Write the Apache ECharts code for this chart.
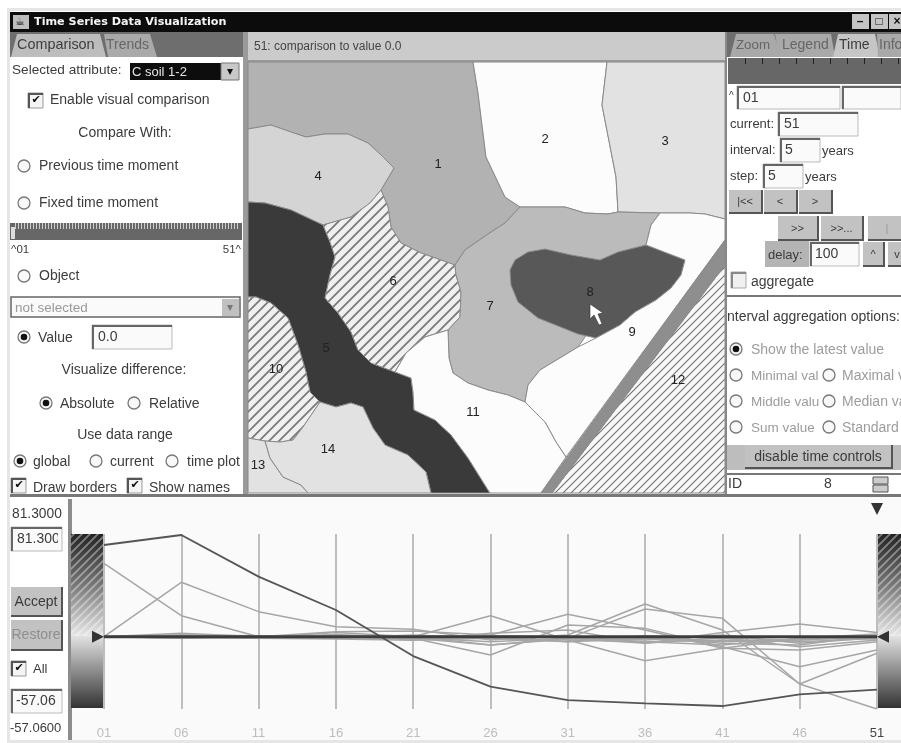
<!DOCTYPE html>
<html><head><meta charset="utf-8">
<style>html,body{margin:0;padding:0;background:#fff}#c{width:901px;height:743px;filter:blur(.45px)}</style>
<script src="https://cdn.jsdelivr.net/npm/echarts@6/dist/echarts.min.js"></script>
</head><body><div id="c"></div>
<script>
// ---------- data ----------
const timeLabels = ['01','06','11','16','21','26','31','36','41','46','51'];
const yMin = -57.06, yMax = 81.3, compareValue = 0.0;
const region1  = [58.1,16.7,0.1,-0.7,-1.2,-6.5,-1.2,22,14.6,-37.3,-57.06];
const region2  = [0.1,43.1,19.9,8,5.9,-2.5,1.4,25.9,5.4,-37.3,-13];
const region3  = [0.1,1.4,-0.7,3.5,0.1,16.7,-2.5,-18.9,-9.1,-1.2,-1.7];
const region4  = [0.1,0.1,0.1,0.1,-1.2,-14.4,9.3,6.7,-7.8,-23.6,-10.4];
const region5  = [72.6,80.5,47.6,21.2,-15.2,-39.4,-50,-52.6,-54.7,-45.5,-41.8];
const region6  = [0.1,2.8,0.1,4,4.6,1.4,17.8,5.4,-9.1,-10.4,-3.8];
const region7  = [0.1,0.1,-1.2,1.4,-2.5,2.8,5.4,-5.1,3.5,10.1,3.5];
const region8  = [0.1,-1.2,0.1,-0.7,0.9,0.1,-3.8,-1.2,-5.1,-6.5,1.4];
const region9  = [0.1,0.1,-1.2,-1.7,-2.8,-1.2,-2.5,-3.8,-2.5,-3.8,-1.2];
const region10 = [0.1,0.9,-0.7,1.9,-0.7,-3.8,-1.2,-5.1,-0.7,-7.8,-2.5];
const region11 = [0.1,-0.7,0.1,0.9,0.1,-6.5,-1.7,-1.2,-3.8,-2.5,0.1];
const region12 = [0.1,1.4,0.9,0.1,-1.2,-0.7,0.1,-2.5,1.4,-5.1,-0.7];
const region13 = [0.1,0.1,0.9,-0.7,1.4,-1.2,-3.8,0.9,-1.2,-2.5,0.9];
const region14 = [0.1,-0.7,-0.7,0.9,-1.7,0.9,0.1,-3.8,-6.5,-1.2,2.2];
const regionValues = {1:region1,2:region2,3:region3,4:region4,5:region5,6:region6,7:region7,8:region8,9:region9,10:region10,11:region11,12:region12,13:region13,14:region14};
// region outlines (map geometry)
const outline1 = [[248,62],[473,62],[478,93],[486,157],[505,197],[520,207],[505,223],[488,234],[465,250],[455,265],[421,253],[401,243],[391,227],[388,207],[381,190],[394,168],[381,155],[368,143],[348,134],[325,134],[306,137],[291,132],[271,125],[248,129]];
const outline2 = [[473,62],[607,62],[602,105],[616,177],[618,212],[608,214],[585,213],[565,207],[520,207],[505,197],[486,157],[478,93]];
const outline3 = [[607,62],[725,62],[725,219],[705,214],[690,213],[660,213],[618,212],[616,177],[602,105]];
const outline4 = [[248,129],[271,125],[291,132],[306,137],[325,134],[348,134],[368,143],[381,155],[394,168],[381,190],[370,203],[351,217],[323,225],[291,210],[265,203],[248,202]];
const outline5 = [[248,202],[265,203],[291,210],[323,225],[330,242],[335,257],[330,275],[325,298],[338,313],[351,332],[358,350],[371,363],[395,372],[411,378],[413,392],[414,410],[435,420],[451,435],[468,458],[488,490],[490,493],[431,493],[426,472],[408,455],[385,445],[373,428],[363,407],[351,403],[336,407],[320,402],[310,392],[306,372],[298,345],[288,318],[271,303],[256,297],[248,297]];
const outline6 = [[381,190],[388,207],[391,227],[401,243],[421,253],[455,265],[456,275],[461,292],[460,317],[448,330],[425,337],[406,353],[395,372],[371,363],[358,350],[351,332],[338,313],[325,298],[330,275],[335,257],[330,242],[323,225],[351,217],[370,203]];
const outline7 = [[520,207],[565,207],[585,213],[608,214],[618,212],[660,213],[651,225],[646,245],[610,300],[585,337],[578,347],[540,370],[528,385],[525,402],[508,395],[488,390],[468,383],[453,373],[449,358],[448,330],[460,317],[461,292],[456,275],[455,265],[465,250],[488,234],[505,223]];
const outline8 = [[646,245],[685,260],[681,275],[671,288],[656,300],[635,312],[620,325],[596,338],[578,334],[538,318],[518,302],[511,285],[510,270],[515,260],[528,252],[545,249],[571,255],[600,260],[618,252]];
const outline9 = [[660,213],[690,213],[705,214],[725,219],[725,240],[566,457],[556,442],[545,422],[525,402],[528,385],[540,370],[578,347],[596,338],[620,325],[635,312],[656,300],[671,288],[681,275],[685,260],[646,245],[651,225]];
const outline10 = [[248,297],[256,297],[271,303],[288,318],[298,345],[306,372],[310,392],[320,402],[303,427],[293,440],[280,442],[265,441],[248,438]];
const outline11 = [[395,372],[406,353],[425,337],[448,330],[449,358],[453,373],[468,383],[488,390],[508,395],[525,402],[545,422],[556,442],[566,457],[541,493],[490,493],[488,490],[468,458],[451,435],[435,420],[414,410],[413,392],[411,378]];
const outline12 = [[552,493],[725,265],[725,493]];
const outline13 = [[248,438],[265,441],[270,458],[283,477],[301,485],[308,493],[248,493]];
const outline14 = [[265,441],[280,442],[293,440],[303,427],[320,402],[336,407],[351,403],[363,407],[373,428],[385,445],[408,455],[426,472],[431,493],[308,493],[301,485],[283,477],[270,458]];
const outlineStrip = [[541,493],[725,240],[725,265],[552,493]];
const regionOutlines = {1:outline1,2:outline2,3:outline3,4:outline4,7:outline7,6:outline6,10:outline10,5:outline5,8:outline8,9:outline9,11:outline11,12:outline12,13:outline13,14:outline14,'':outlineStrip};
const labelPoints = {1:[438,164],2:[545,139],3:[665,141],4:[318,176],5:[326,348],6:[393,281],7:[490,306],8:[590,292],9:[632,332],10:[276,369],11:[473,412],12:[678,380],13:[258,465],14:[328,449]};

// ---------- helpers ----------
function hatch(n, bg, fg, w){
  const c=document.createElement('canvas'); c.width=c.height=n;
  const g=c.getContext('2d');
  if(bg){g.fillStyle=bg;g.fillRect(0,0,n,n);}
  g.strokeStyle=fg;g.lineWidth=w;g.beginPath();
  g.moveTo(-2,2);g.lineTo(2,-2);g.moveTo(0,n);g.lineTo(n,0);g.moveTo(n-2,n+2);g.lineTo(n+2,n-2);g.stroke();
  return {image:c,repeat:'repeat'};
}
const hatch6 = hatch(10,'#f0f0f0','#7a7a7a',1.8);
const hatch12 = hatch(8,'#f8f8f8','#707070',1.1);
const regionFill = {1:'#b2b2b2',2:'#fcfcfc',3:'#e2e2e2',4:'#d4d4d4',5:'#3a3a3a',6:hatch6,7:'#bbbbbb',8:'#585858',9:'#fcfcfc',10:hatch6,11:'#fcfcfc',12:hatch12,13:'#e2e2e2',14:'#e2e2e2','':'#8e8e8e'};

const ui=[]; const F='"Liberation Sans",Arial,sans-serif';
function R(x,y,w,h,fill,o={}){ui.push({type:'rect',silent:true,z:o.z??0,shape:{x,y,width:w,height:h},style:{fill,stroke:o.stroke,lineWidth:o.lw??1}});}
function T(x,y,text,o={}){ui.push({type:'text',silent:true,z:o.z??1,x,y,style:{text,fill:o.c??'#3c3c3c',font:(o.b?'bold ':'')+(o.s??14)+'px '+(o.f??F),align:o.a??'left',verticalAlign:'middle'}});}
function field(x,y,w,h,t,tx){R(x,y,w,h,'#fafafa',{stroke:'#bbb'});R(x,y,w,2,'#666');R(x,y,2,h,'#666');if(t)T(tx??x+6,y+h/2+0.5,t);}
function btn(x,y,w,h,t,o={}){R(x,y,w,h,'#c2c2c2');R(x+w-2,y,2,h,'#555');R(x,y+h-2,w,2,'#555');if(t)T(x+w/2-1,y+h/2,t,{a:'center',c:o.c??'#3a3a3a',s:o.s??14});}
function check(x,y,on){R(x,y,15,15,'#f4f4f4',{stroke:'#999'});R(x,y,15,2,'#555');R(x,y,2,15,'#555');if(on)T(x+8,y+7.5,'✔',{a:'center',c:'#111',s:11,f:'"DejaVu Sans"'});}
function radio(cx,cy,on){ui.push({type:'circle',silent:true,z:1,shape:{cx,cy,r:6},style:{fill:'#f8f8f8',stroke:'#777',lineWidth:1.3}});if(on)ui.push({type:'circle',silent:true,z:1,shape:{cx,cy,r:3.3},style:{fill:'#111'}});}
function rule(x0,x1,y,step,c){for(let x=x0;x<x1;x+=step)R(x,y,1,6,c,{z:1});}

// ---------- window frame ----------
R(7,8,894,735,'#e6e6e6'); R(10,11,891,729,'#ffffff');
R(10,12,891,20,'#0c0c0c');
R(13,15,16,14,'#bdbdbd'); T(15,22,'☕',{s:11,c:'#222',f:'"DejaVu Sans"'});
T(34,22,'Time Series Data Visualization',{c:'#f4f4f4',b:1,s:11.2,f:'"DejaVu Sans"'});
[[852,'–'],[871,'□'],[889,'×']].forEach(([x,g])=>{R(x,14,17,15,'#c4c4c4');T(x+8,22,g,{a:'center',c:'#111',b:1,s:12});});

// left panel
R(10,32,233,25,'#6e6e6e');
ui.push({type:'polygon',silent:true,z:0,shape:{points:[[11,57],[17,34],[100,34],[106,57]]},style:{fill:'#bdbdbd'}});
ui.push({type:'polygon',silent:true,z:0,shape:{points:[[104,34],[150,34],[157,57],[108,57]]},style:{fill:'#a9a9a9'}});
T(17,45,'Comparison',{s:14.4}); T(106,45,'Trends',{s:14,c:'#666'});
R(243,32,5,462,'#9a9a9a');
T(12,70,'Selected attribute:',{s:13.6});
R(130,63,91,17,'#0d0d0d'); T(132,72,'C soil 1-2',{c:'#e6e6e6',s:13}); R(221,63,18,17,'#c8c8c8',{stroke:'#777'}); T(230,72,'▾',{a:'center',c:'#111',s:12});
check(28,93,true); T(50,100,'Enable visual comparison');
T(125,133,'Compare With:',{a:'center'});
radio(24,166,false); T(39,166,'Previous time moment');
radio(24,203,false); T(39,203,'Fixed time moment');
R(10,223,232,17,'#676767'); rule(15,240,223,3,'#cfcfcf'); R(11,227,4,12,'#ddd');
T(11,250,'^01',{s:11.5}); T(241,250,'51^',{s:11.5,a:'right'});
radio(24,276,false); T(39,276,'Object');
R(11,297,229,20,'#fafafa',{stroke:'#666',lw:1.5}); T(15,308,'not selected',{c:'#999',s:13.5}); R(222,299,17,17,'#c0c0c0'); T(230,308,'▾',{a:'center',c:'#777',s:12});
radio(24,337,true); T(38,338,'Value'); field(92,325,80,24,'0.0',98);
T(124,370,'Visualize difference:',{a:'center'});
radio(46,403,true); T(60,404,'Absolute'); radio(134,403,false); T(149,404,'Relative');
T(125,435,'Use data range',{a:'center'});
radio(20,461,true); T(33,462,'global'); radio(96,461,false); T(110,462,'current'); radio(172,461,false); T(187,462,'time plot');
check(11,478,true); T(33,488,'Draw borders'); check(127,478,true); T(149,488,'Show names');

// map header
R(248,32,477,30,'#cbcbcb'); R(248,60,477,2,'#9a9a9a');
T(254,47,'51: comparison to value 0.0',{s:12,c:'#444'});
R(725,32,2,462,'#888');

// right panel
R(727,32,174,25,'#6e6e6e');
[[[730,57],[736,34],[774,34],[781,57]],[[779,57],[775,34],[831,34],[835,57]],[[833,57],[838,34],[875,34],[880,57]],[[878,57],[877,34],[901,34],[901,57]]].forEach((p,i)=>ui.push({type:'polygon',silent:true,z:0,shape:{points:p},style:{fill:i==2?'#c6c6c6':'#a9a9a9'}}));
T(736,45,'Zoom',{s:13.3,c:'#666'});T(782,45,'Legend',{s:14,c:'#666'});T(839,45,'Time',{s:14});T(879,45,'Info',{s:14,c:'#666'});
R(728,58,173,26,'#676767'); rule(745,901,58,17,'#222');
T(729,96,'^',{s:10}); field(737,86,103,23,'01',743); field(842,86,59,23,'');
T(730,124,'current:',{s:13}); field(778,112,80,24,'51',784);
T(730,150,'interval:',{s:13}); field(780,138,40,24,'5',785); T(822,151,'years',{s:13});
T(730,176,'step:',{s:13}); field(763,164,40,24,'5',768); T(805,177,'years',{s:13});
btn(729,190,34,24,'|<<',{s:11});btn(764,190,34,24,'<',{s:11});btn(799,190,34,24,'>',{s:11});
btn(778,216,41,25,'>>',{s:11});btn(821,216,43,25,'>>...',{s:11});btn(868,216,40,25,'|',{s:11,c:'#999'});
R(765,241,44,26,'#b4b4b4'); T(768,255,'delay:',{s:13}); field(810,242,49,24,'100',815);
btn(863,242,22,25,'^',{s:11}); btn(888,242,20,25,'v',{s:11});
R(731,272,15,16,'#f0f0f0',{stroke:'#aaa'}); R(731,272,15,2,'#888'); R(731,272,2,16,'#888'); T(751,282,'aggregate');
R(727,295,174,2,'#777');
T(727,317,'nterval aggregation options:');
const G='#9c9c9c';
radio(736,349,true); T(751,350,'Show the latest value',{c:G});
radio(736,375,false); T(751,376,'Minimal val',{c:G,s:13.5}); radio(829,375,false); T(842,376,'Maximal v',{c:G});
radio(736,401,false); T(751,402,'Middle valu',{c:G,s:13.5}); radio(829,401,false); T(842,402,'Median va',{c:G});
radio(736,427,false); T(751,428,'Sum value',{c:G,s:13.5}); radio(829,427,false); T(842,428,'Standard',{c:G});
R(727,445,174,25,'#bdbdbd'); btn(745,445,148,24,'disable time controls');
R(727,473,174,2,'#777');
T(728,484,'ID'); T(828,484,'8',{a:'center'}); R(873,477,15,7,'#ccc',{stroke:'#555'}); R(873,485,15,7,'#ccc',{stroke:'#555'});

// bottom panel
R(10,494,891,3,'#777'); R(10,497,891,243,'#ffffff');
R(68,499,4,241,'#8c8c8c');
T(12,514,'81.3000',{s:13.8}); field(11,527,51,24,'81.300',17); R(58,529,3,21,'#fafafa',{z:2});
btn(11,587,52,30,'Accept'); btn(11,620,52,31,'Restore',{c:'#8e8e8e'});
check(11,661,true); T(33,669,'All',{s:13});
field(11,689,51,24,'-57.06',16); T(10,728,'-57.0600',{s:13});
R(72,497,829,243,'#fafafa');

// colour scale bars
[[71,32],[878,23]].forEach(([x,w])=>{
  R(x,534,w,102,{type:'linear',x:0,y:0,x2:0,y2:1,colorStops:[{offset:0,color:'#222'},{offset:.5,color:'#777'},{offset:1,color:'#e8e8e8'}]},{z:1});
  R(x,534,w,102,hatch(8,null,'rgba(255,255,255,.4)',1.8),{z:1});
  R(x,636,w,72,{type:'linear',x:0,y:0,x2:0,y2:1,colorStops:[{offset:0,color:'#e2e2e2'},{offset:1,color:'#333'}]},{z:1});
});
// pointer
ui.push({type:'polygon',silent:true,z:100,shape:{points:[[590,304],[590,319],[594,315],[599,325],[602,324],[598,314],[603,313]]},style:{fill:'#fff',stroke:'#333',lineWidth:.6}});

// ---------- map ----------
const features=Object.entries(regionOutlines).map(([name,o])=>({type:'Feature',
  properties:{name,cp:labelPoints[name]?[labelPoints[name][0],-labelPoints[name][1]]:undefined},
  geometry:{type:'Polygon',coordinates:[o.concat([o[0]]).map(p=>[p[0],-p[1]])]}}));
echarts.registerMap('regions',{type:'FeatureCollection',features});
const mapData=Object.keys(regionOutlines).map(name=>({name,value:name?regionValues[name][10]:0,itemStyle:{areaColor:regionFill[name]}}));

// ---------- line chart ----------
const lineSeries=Object.keys(regionValues).map(k=>({
  name:'Region '+k,type:'line',data:regionValues[k],symbol:'none',silent:true,animation:false,
  lineStyle:{color:k==='5'?'#555':'#a6a6a6',width:k==='5'?1.8:1.5},z:k==='5'?4:3}));
const zeroSeries={name:'Compared value',type:'line',data:timeLabels.map(()=>compareValue),symbol:'none',silent:true,animation:false,z:5,
  lineStyle:{color:'#3c3c3c',width:3},
  markPoint:{silent:true,animation:false,symbolSize:[12,12],itemStyle:{color:'#333'},label:{show:false},data:[
    {coord:[timeLabels[0],compareValue],symbol:'triangle',symbolRotate:-90,symbolOffset:[-6,0]},
    {coord:[timeLabels[10],compareValue],symbol:'triangle',symbolRotate:90,symbolOffset:[6,0]},
    {coord:[timeLabels[10],yMax],symbol:'triangle',symbolRotate:180,symbolOffset:[0,-25]}]}};

const chart=echarts.init(document.getElementById('c'),null,{renderer:'canvas'});
chart.setOption({animation:false,backgroundColor:'#fff',graphic:{elements:ui},
  grid:{left:104,right:24,top:534,height:175,show:true,borderColor:'#bdbdbd',borderWidth:1.5,backgroundColor:'transparent'},
  xAxis:{type:'category',data:timeLabels,boundaryGap:false,
    axisLine:{show:false},axisTick:{show:true,length:3,lineStyle:{color:'#bbb'}},
    splitLine:{show:true,lineStyle:{color:'#aaaaaa',width:1.5}},
    axisLabel:{margin:18,fontSize:13,fontFamily:F,interval:0,color:(v)=>v==='51'?'#444':'#bdbdbd',hideOverlap:false}},
  yAxis:{type:'value',min:yMin,max:yMax,show:false,splitLine:{show:false}},
  series:[...lineSeries,zeroSeries,
   {type:'map',map:'regions',silent:true,left:248,top:62,width:477,height:431,aspectScale:1,roam:false,selectedMode:false,
    z:2,data:mapData,
    label:{show:true,color:'#222',fontSize:13,fontFamily:F,formatter:p=>p.name},
    itemStyle:{borderColor:'#8a8a8a',borderWidth:1,areaColor:'#fff'},
    emphasis:{disabled:true}}]
});
</script></body></html>
